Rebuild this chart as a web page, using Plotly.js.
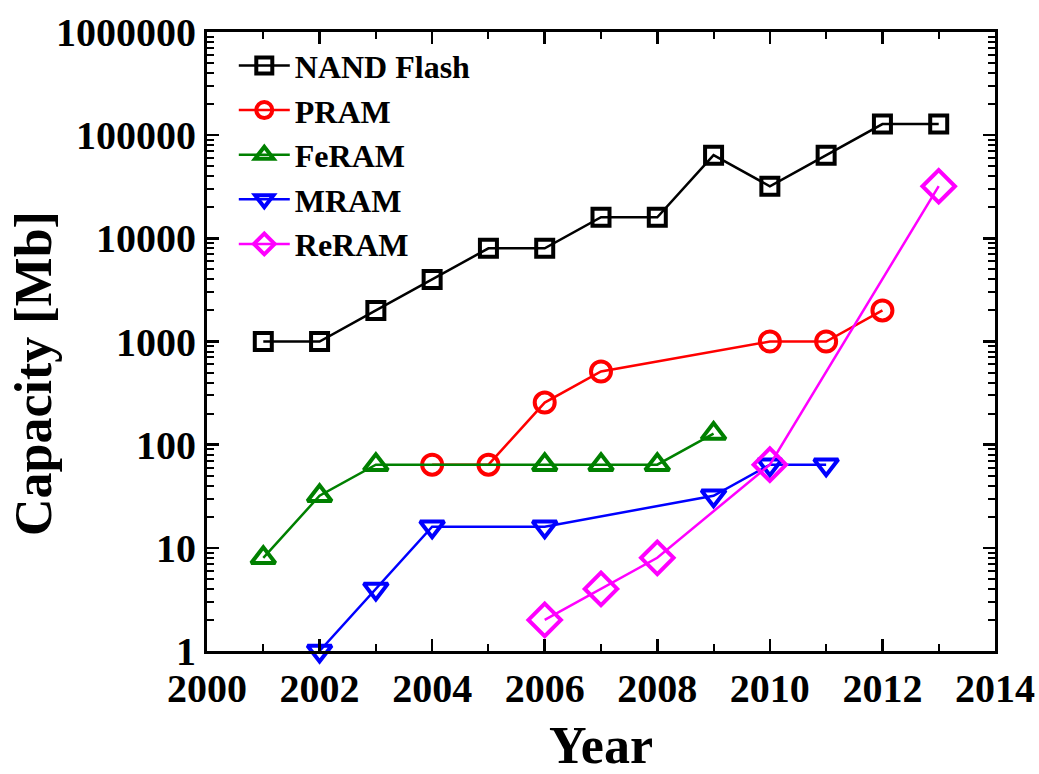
<!DOCTYPE html>
<html>
<head>
<meta charset="utf-8">
<script src="https://cdn.plot.ly/plotly-3.0.1.min.js"></script>
<style>
  html, body { margin: 0; padding: 0; background: #fff; }
  #chart { width: 1039px; height: 774px; }
</style>
</head>
<body>
<div id="chart"></div>
<script>
// Memory chip capacity by year of announcement (Mb)
const nandYears = [2001, 2002, 2003, 2004, 2005, 2006, 2007, 2008, 2009, 2010, 2011, 2012, 2013];
const nandMb    = [1000, 1000, 2000, 4000, 8000, 8000, 16000, 16000, 64000, 32000, 64000, 128000, 128000];

const pramYears = [2004, 2005, 2006, 2007, 2010, 2011, 2012];
const pramMb    = [64, 64, 256, 512, 1000, 1000, 2000];

const feramYears = [2001, 2002, 2003, 2006, 2007, 2008, 2009];
const feramMb    = [8, 32, 64, 64, 64, 64, 128];

const mramYears = [2002, 2003, 2004, 2006, 2009, 2010, 2011];
const mramMb    = [1, 4, 16, 16, 32, 64, 64];

const reramYears = [2006, 2007, 2008, 2010, 2013];
const reramMb    = [2, 4, 8, 64, 32000];

// Axis labels
const yTickVals  = [1, 10, 100, 1000, 10000, 100000, 1000000];
const yTickText  = ['1', '10', '100', '1000', '10000', '100000', '1000000'];
const xTitle = 'Year';
const yTitle = 'Capacity [Mb]';

const FONT = '"Liberation Serif", "Times New Roman", serif';

// log minor ticks: 2..9 within each decade
const yMinor = [];
for (let d = 0; d < 6; d++) {
  for (let m = 2; m <= 9; m++) yMinor.push(m * Math.pow(10, d));
}

function series(name, x, y, color, symbol, size) {
  return {
    type: 'scatter', mode: 'lines+markers', name: name, x: x, y: y,
    line: { color: color, width: 2.5 },
    marker: { symbol: symbol, size: size, color: color,
              line: { color: color, width: 4 } },
    cliponaxis: false
  };
}

const traces = [
  series('NAND Flash', nandYears, nandMb, '#000000', 'square-open', 17),
  series('PRAM', pramYears, pramMb, '#ff0000', 'circle-open', 20),
  series('FeRAM', feramYears, feramMb, '#008000', 'triangle-up-open', 21),
  series('MRAM', mramYears, mramMb, '#0000ff', 'triangle-down-open', 21),
  series('ReRAM', reramYears, reramMb, '#ff00ff', 'diamond-open', 25)
];

const axisCommon = {
  showline: true, linecolor: '#000', linewidth: 3, mirror: 'ticks',
  ticks: 'inside', ticklen: 12, tickwidth: 2.5, tickcolor: '#000',
  showgrid: false, zeroline: false,
  tickfont: { family: FONT, size: 40, color: '#000', weight: 'bold' }
};

const layout = {
  width: 1039, height: 774,
  margin: { l: 207, r: 44, t: 32, b: 123 },
  paper_bgcolor: '#fff', plot_bgcolor: '#fff',
  showlegend: true,
  legend: {
    x: 0.034, y: 0.99, xanchor: 'left', yanchor: 'top',
    bgcolor: 'rgba(0,0,0,0)', borderwidth: 0, itemwidth: 51,
    font: { family: FONT, size: 32, color: '#000', weight: 'bold' },
    tracegroupgap: 0
  },
  xaxis: Object.assign({}, axisCommon, {
    range: [2000, 2014], tickmode: 'linear', tick0: 2000, dtick: 2,
    minor: { ticks: 'inside', ticklen: 7, tickwidth: 2, dtick: 1, tickcolor: '#000' },
    title: { text: xTitle, standoff: 20,
             font: { family: FONT, size: 52, color: '#000', weight: 'bold' } }
  }),
  yaxis: Object.assign({}, axisCommon, {
    type: 'log', range: [0, 6], tickmode: 'array',
    tickvals: yTickVals, ticktext: yTickText,
    minor: { ticks: 'inside', ticklen: 7, tickwidth: 2, tickmode: 'array',
             tickvals: yMinor, tickcolor: '#000' }
  }),
  annotations: [{
    text: yTitle, textangle: -90, showarrow: false,
    xref: 'paper', yref: 'paper', x: -0.2195, y: 0.4475,
    xanchor: 'center', yanchor: 'middle',
    font: { family: FONT, size: 52, color: '#000', weight: 'bold' }
  }]
};

Plotly.newPlot('chart', traces, layout, { displayModeBar: false, staticPlot: true });
</script>
</body>
</html>
